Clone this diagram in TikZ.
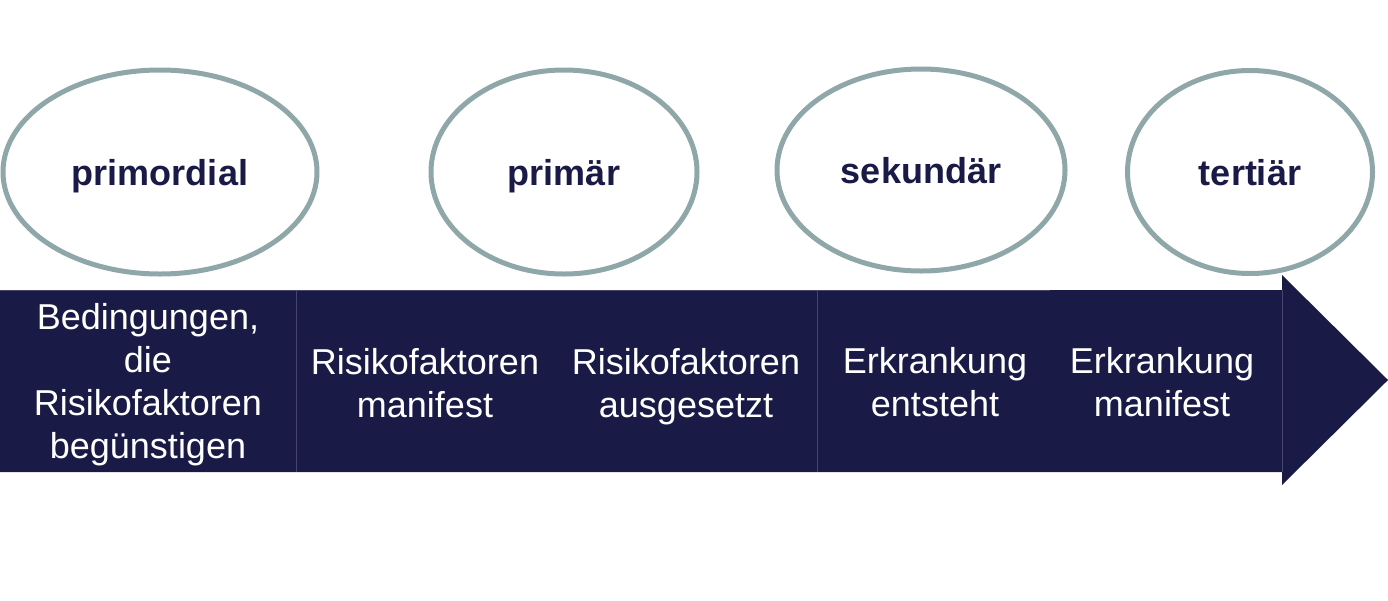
\documentclass[tikz,border=0pt]{standalone}
\usepackage{fontspec}
\setmainfont{Liberation Sans}
\usetikzlibrary{shapes.geometric}
\definecolor{navy}{HTML}{1A1A47}
\definecolor{ringgray}{HTML}{8FA7A9}
\definecolor{divline}{HTML}{45456E}
\begin{document}
\begin{tikzpicture}[x=1pt,y=-1pt,
  ring/.style={ellipse,draw=ringgray,line width=5pt,inner sep=0pt,
    text height=26pt,text depth=0pt,
    font=\fontsize{36}{43}\selectfont\bfseries,text=navy},
  bandtext/.style={align=center,text=white,inner sep=0pt,
    font=\fontsize{36}{43}\selectfont}]
\useasboundingbox (0,0) rectangle (1388,600);
% arrow band
\fill[navy] (0,290) -- (1282,290) -- (1282,275) -- (1388,380) -- (1282,485) -- (1282,472) -- (0,472) -- cycle;
\draw[divline,line width=0.8pt] (0,290.5) -- (1050,290.5);
\draw[divline,line width=0.8pt] (296,290) -- (296,472);
\draw[divline,line width=0.8pt] (817,290) -- (817,472);
\draw[divline,line width=0.8pt] (1282,290) -- (1282,472);
% ellipses
\node[ring,minimum width=314pt,minimum height=204pt] (e1) at (160,172) {primordial};
\node[ring,minimum width=266pt,minimum height=204pt] (e2) at (564,172) {primär};
\node[ring,minimum width=288pt,minimum height=202pt] (e3) at (921,170) {sekundär};
\node[ring,minimum width=245pt,minimum height=203pt] (e4) at (1250,172) {tertiär};
% band texts
\node[bandtext] (t1) at (148,385) {Bedingungen,\\die\\Risikofaktoren\\begünstigen};
\node[bandtext] (t2) at (425,383) {Risikofaktoren\\manifest};
\node[bandtext] (t3) at (686,387) {Risikofaktoren\\ausgesetzt};
\node[bandtext] (t4) at (935,382) {Erkrankung\\entsteht};
\node[bandtext] (t5) at (1162,382) {Erkrankung\\manifest};
\end{tikzpicture}
\end{document}
